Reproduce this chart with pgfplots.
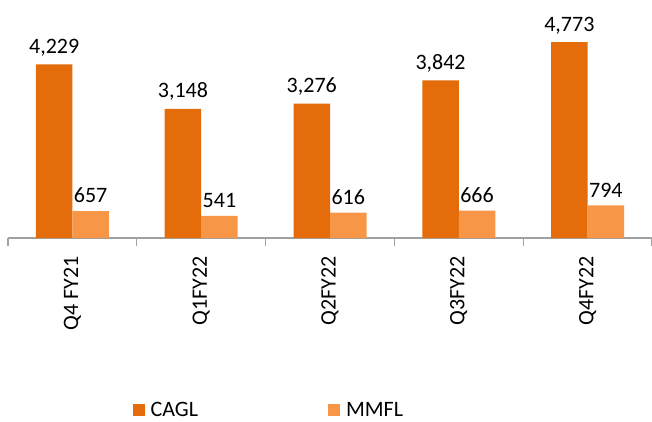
\documentclass[border=0pt]{standalone}
\usepackage{fontspec}
\setmainfont{Carlito}
\usepackage{pgfplots}
\pgfplotsset{compat=1.18}
\definecolor{cagl}{HTML}{E46C0A}
\definecolor{mmfl}{HTML}{F79646}
\definecolor{axgray}{HTML}{A0A0A0}
\begin{document}
\begin{tikzpicture}[x=1pt,y=1pt]
\begin{axis}[
  name=ax,
  at={(8pt,183pt)}, anchor=south west,
  scale only axis, width=644pt, height=238pt,
  xmin=-0.5, xmax=4.5, ymin=0, ymax=5800,
  ybar=0pt, bar width=36.5pt,
  axis x line*=bottom, axis y line=none,
  x axis line style={draw=axgray, line width=1.2pt, -},
  xtick={0,1,2,3,4},
  xticklabels={Q4 FY21,Q1FY22,Q2FY22,Q3FY22,Q4FY22},
  major tick length=0pt,
  xticklabel style={rotate=90, anchor=east, font=\fontsize{22}{24}\selectfont, inner sep=0pt, yshift=0pt},
  xticklabel shift=18pt,
  extra x ticks={-0.5,0.5,1.5,2.5,3.5,4.5},
  extra x tick labels={},
  extra x tick style={major tick length=8pt, tick align=outside, tick style={draw=axgray, line width=1.2pt}},
  /pgf/number format/assume math mode=true,
  /pgf/number format/1000 sep={,},
  nodes near coords,
  nodes near coords style={font=\fontsize{22}{24}\selectfont, text=black, anchor=south, yshift=8pt, inner sep=0pt},
  legend columns=2,
  legend style={at={(0.405,-0.723)}, anchor=center, draw=none, fill=none,
    font=\fontsize{22}{24}\selectfont,
    /tikz/every odd column/.append style={column sep=4pt},
    /tikz/every even column/.append style={column sep=128pt}},
  legend image code/.code={\fill[#1] (0pt,-6pt) rectangle (12pt,6pt);},
]
\addplot[fill=cagl, draw=none] coordinates {(0,4229) (1,3148) (2,3276) (3,3842) (4,4773)};
\addplot[fill=mmfl, draw=none] coordinates {(0,657) (1,541) (2,616) (3,666) (4,794)};
\legend{CAGL,MMFL}
\end{axis}
\pgfresetboundingbox
\path (0,0) rectangle (652pt,421pt);
\end{tikzpicture}
\end{document}
